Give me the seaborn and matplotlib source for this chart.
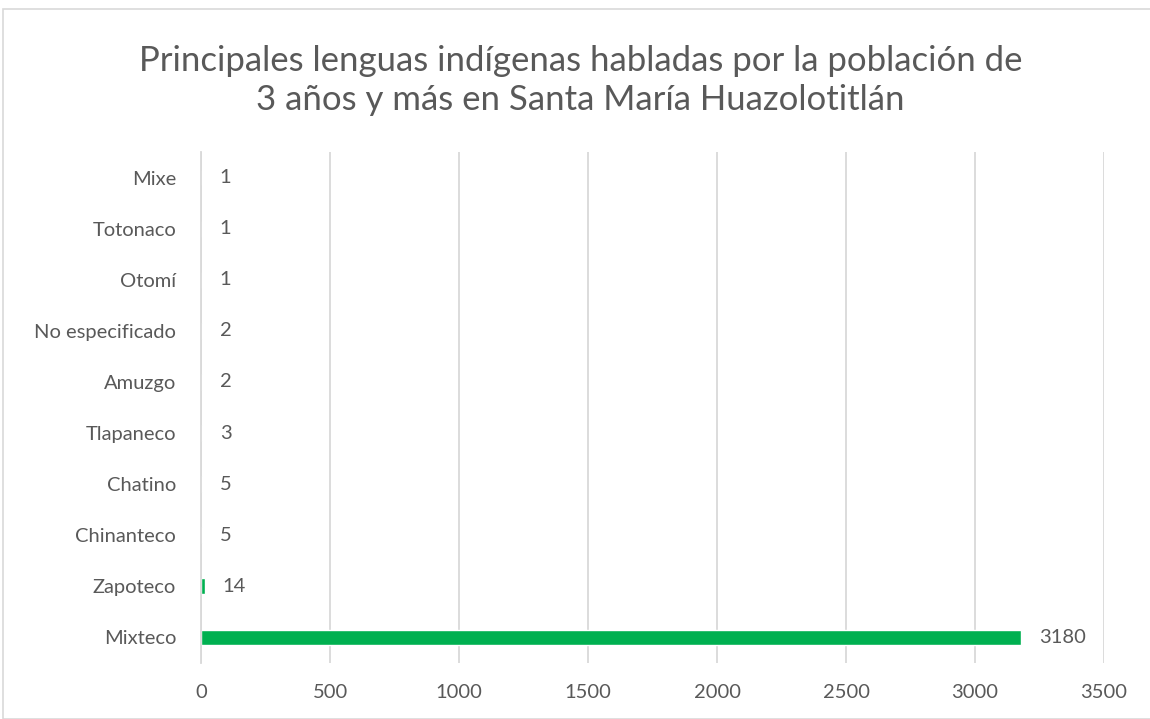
import matplotlib
matplotlib.use("Agg")
import matplotlib.pyplot as plt
import seaborn as sns
import pandas as pd
from matplotlib.patches import Rectangle

categories = ["Mixe", "Totonaco", "Otomí", "No especificado", "Amuzgo",
              "Tlapaneco", "Chatino", "Chinanteco", "Zapoteco", "Mixteco"]
values = [1, 1, 1, 2, 2, 3, 5, 5, 14, 3180]
xticks = [0, 500, 1000, 1500, 2000, 2500, 3000, 3500]
title = "Principales lenguas indígenas habladas por la población de\n3 años y más en Santa María Huazolotitlán"

sns.set_theme(style="white")
plt.rcParams['font.family'] = ['Lato', 'DejaVu Sans']

TXT = "#595959"
GREEN = "#00B050"

df = pd.DataFrame({"lengua": categories, "valor": values})

fig = plt.figure(figsize=(11.5, 7.19), dpi=100)
ax = fig.add_axes([0.1748, 0.0779, 0.9600 - 0.1748, 0.7886 - 0.0779])

sns.barplot(data=df, y="lengua", x="valor", orient="h", color=GREEN,
            saturation=1, width=0.31, ax=ax, order=categories)

ax.set_xlim(0, 3500)
ax.set_xticks(xticks)
ax.set_xticklabels([str(t) for t in xticks], fontsize=14.5, color=TXT)
ax.tick_params(axis='y', labelsize=14.5, labelcolor=TXT, length=0, pad=18)
ax.tick_params(axis='x', length=0, pad=15)
ax.set_xlabel("")
ax.set_ylabel("")
ax.set_ylim(len(categories) - 0.5, -0.5)

ax.grid(axis='x', color="#D9D9D9", linewidth=1.3)
ax.set_axisbelow(True)
for s in ["top", "right", "bottom"]:
    ax.spines[s].set_visible(False)
ax.spines["left"].set_color("#D9D9D9")
ax.spines["left"].set_linewidth(1.3)

for i, v in enumerate(values):
    ax.text(v + 70, i, str(v), va="center", ha="left", fontsize=14.5, color=TXT)

fig.text(0.505, 0.888, title, ha="center", va="center", fontsize=25,
         color=TXT, linespacing=1.3)

fig.patches.append(Rectangle((3 / 1150, 0), 1.2, 1 - 9 / 719, transform=fig.transFigure,
                             fill=False, edgecolor="#D9D9D9", linewidth=1.2))

fig.savefig("out.png", dpi=100)
